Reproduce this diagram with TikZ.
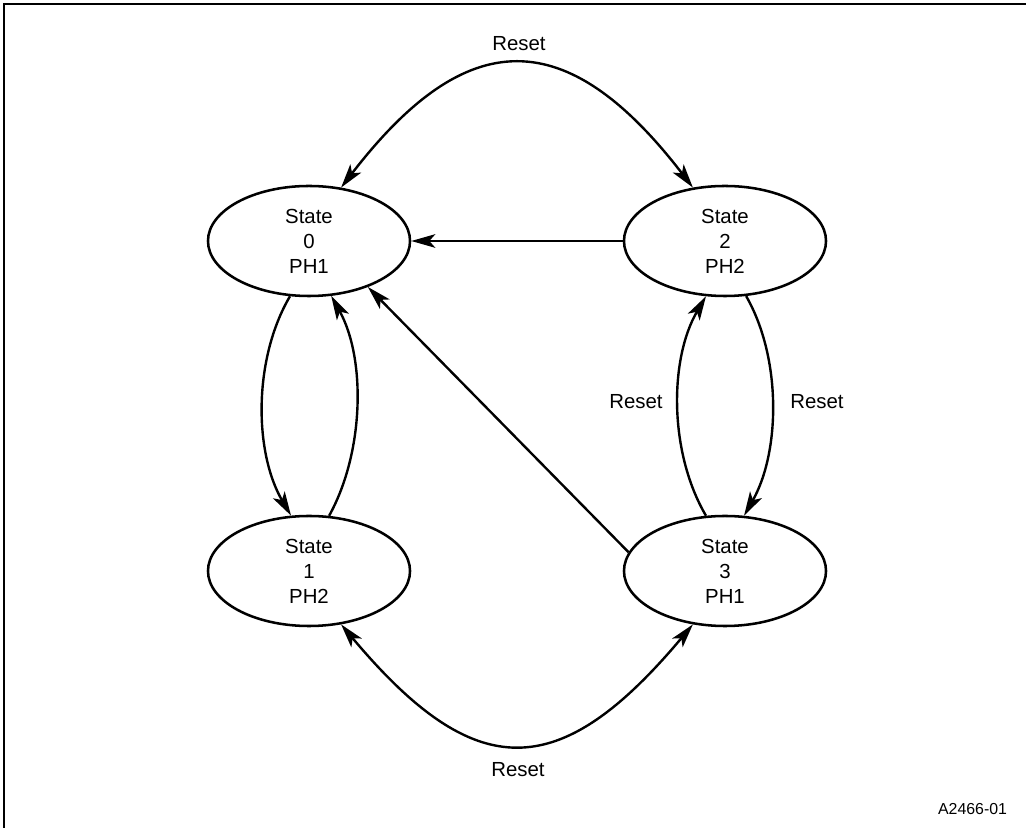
\documentclass[tikz,border=0pt]{standalone}
\usepackage{fontspec}
\setmainfont{Liberation Sans}
\usetikzlibrary{arrows.meta,shapes.geometric}
\tikzset{
  >={Stealth[length=6mm,width=3.4mm,inset=1.5mm]},
  state/.style={ellipse, draw=black, line width=1.8pt,
                minimum width=5.05cm, minimum height=2.75cm,
                inner sep=0pt, align=center,
                font=\fontsize{14.5}{17.8}\selectfont},
  flow/.style={->, line width=1.7pt},
  twoway/.style={<->, line width=1.7pt},
  lab/.style={font=\fontsize{14.5}{17.8}\selectfont},
  tag/.style={font=\fontsize{11.3}{13.5}\selectfont},
  frame/.style={black, line width=1pt},
}

\begin{document}
\begin{tikzpicture}[x=0.025cm,y=0.025cm]
  \path[use as bounding box] (0,0) rectangle (1026,828);
  \draw[frame] (4,0) -- (4,824) -- (1026,824);

  \node[state] (state0) at (309,587) {State\\0\\PH1};
  \node[state] (state2) at (725,587) {State\\2\\PH2};
  \node[state] (state1) at (309,257) {State\\1\\PH2};
  \node[state] (state3) at (725,257) {State\\3\\PH1};

  % reset arcs between the outer pairs
  \draw[twoway] (state0.59) .. controls +(126,164) and +(-126,164) .. (state2.121);
  \draw[twoway] (state1.301) .. controls +(134,-160) and +(-134,-160) .. (state3.239);
  \node[lab] (resettop) at (519,784) {Reset};
  \node[lab] (resetbottom) at (518,58) {Reset};

  \draw[flow] (state2) -- (state0);
  \draw[flow] (state3.169) -- (state0.-38);

  \draw[flow] (state0.251) .. controls +(-37,-63) and +(-37,63) .. (state1.108);
  \draw[flow] (state1.70) .. controls +(35,63) and +(35,-63) .. (state0.292);

  \draw[flow] (state3.109) .. controls +(-37,63) and +(-37,-63) .. (state2.251);
  \draw[flow] (state2.291) .. controls +(36,-63) and +(36,63) .. (state3.71);
  \node[lab] (resetleft) at (636,426) {Reset};
  \node[lab] (resetright) at (817,426) {Reset};

  \node[tag, anchor=east] (figid) at (1012,19) {A2466-01};
\end{tikzpicture}
\end{document}
